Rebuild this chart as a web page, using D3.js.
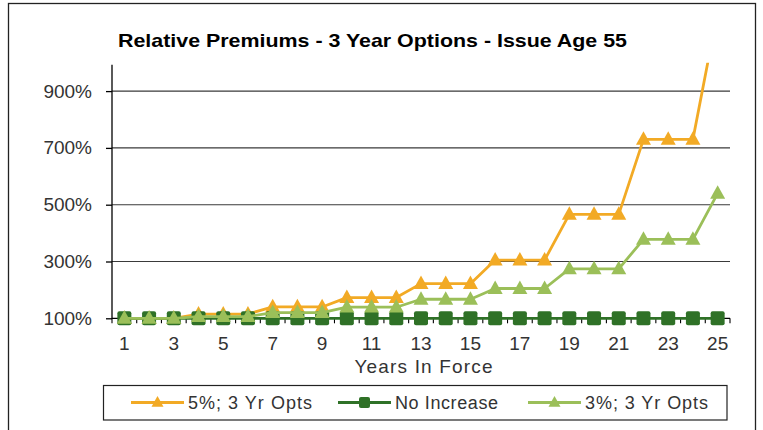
<!DOCTYPE html>
<html>
<head>
<meta charset="utf-8">
<script src="https://cdn.jsdelivr.net/npm/d3@7/dist/d3.min.js"></script>
<style>
  html, body { margin: 0; padding: 0; background: #fff; }
  svg text { font-family: "Liberation Sans", Arial, sans-serif; }
</style>
</head>
<body>
<svg id="chart" width="763" height="430"></svg>
<script>
// values
let years = d3.range(1, 26)
let pct5 = [100, 100, 100, 115, 115, 115, 140, 140, 140, 173, 173, 173, 222, 222, 222, 305, 305, 305, 466, 466, 466, 730, 730, 730, 1180]
let noIncrease = [100, 100, 100, 100, 100, 100, 100, 100, 100, 100, 100, 100, 100, 100, 100, 100, 100, 100, 100, 100, 100, 100, 100, 100, 100]
let pct3 = [100, 100, 100, 106, 106, 106, 120, 120, 120, 139, 139, 139, 167, 167, 167, 205, 205, 205, 274, 274, 274, 378, 378, 378, 540]
let yTicks = [100, 300, 500, 700, 900]
let xLabels = [1, 3, 5, 7, 9, 11, 13, 15, 17, 19, 21, 23, 25]

let seriesList = [
    { name: '5%; 3 Yr Opts', values: pct5, color: '#F2AA25', marker: 'tri', textLen: 124, lx: 131 },
    { name: 'No Increase', values: noIncrease, color: '#2F7127', marker: 'sq', textLen: 103, lx: 338 },
    { name: '3%; 3 Yr Opts', values: pct3, color: '#9BBF59', marker: 'tri', textLen: 123, lx: 528 }
]

let svg = d3.select('#chart')

let plotLeft = 112, plotRight = 730, plotTop = 62.7, plotBottom = 318.3

let xScale = d3.scaleBand()
    .domain(years)
    .range([plotLeft, plotRight])
    .padding(0)

let yScale = d3.scaleLinear()
    .domain([100, 1000])
    .range([plotBottom, plotTop])

// outer frame
svg.append('rect')
    .attr('x', 8.5).attr('y', 3.5)
    .attr('width', 747).attr('height', 440)
    .attr('fill', 'none')
    .attr('stroke', '#222')
    .attr('stroke-width', 1.3)

// title
svg.append('text')
    .attr('x', 118)
    .attr('y', 47)
    .attr('font-size', 19)
    .attr('font-weight', 'bold')
    .attr('fill', '#000')
    .attr('textLength', 509)
    .attr('lengthAdjust', 'spacingAndGlyphs')
    .text('Relative Premiums - 3 Year Options - Issue Age 55')

// gridlines
svg.append('g')
    .selectAll('line')
    .data(yTicks.filter(d => d != 100))
    .enter()
    .append('line')
    .attr('x1', plotLeft).attr('x2', plotRight)
    .attr('y1', d => yScale(d)).attr('y2', d => yScale(d))
    .attr('stroke', '#3a3a3a')
    .attr('stroke-width', 1.1)

// y axis
let yAxis = d3.axisLeft(yScale)
    .tickValues(yTicks)
    .tickSize(6)
    .tickPadding(14)
    .tickFormat(d => d + '%')

let yG = svg.append('g')
    .attr('transform', 'translate(' + plotLeft + ',0)')
    .call(yAxis)
yG.select('.domain').attr('d', 'M0,' + (plotBottom + 0.5) + 'V' + (plotTop + 2)).attr('stroke', '#000').attr('stroke-width', 1.3)
yG.selectAll('.tick line').attr('stroke', '#000').attr('stroke-width', 1.3)
yG.selectAll('.tick text')
    .attr('font-size', 19)
    .attr('fill', '#333')
    .attr('font-family', '"Liberation Sans", Arial, sans-serif')

// x axis: tick marks on category boundaries, labels on odd years
let xG = svg.append('g')
xG.append('line')
    .attr('x1', plotLeft).attr('x2', plotRight)
    .attr('y1', plotBottom).attr('y2', plotBottom)
    .attr('stroke', '#000')
    .attr('stroke-width', 1.3)

let bounds = years.map(d => xScale(d)).concat([plotRight])
xG.selectAll('line.tk')
    .data(bounds)
    .enter()
    .append('line')
    .attr('class', 'tk')
    .attr('x1', d => d).attr('x2', d => d)
    .attr('y1', plotBottom).attr('y2', plotBottom + 5)
    .attr('stroke', '#000')
    .attr('stroke-width', 1.1)

xG.selectAll('text')
    .data(xLabels)
    .enter()
    .append('text')
    .attr('x', d => xScale(d) + xScale.bandwidth() / 2)
    .attr('y', 350)
    .attr('text-anchor', 'middle')
    .attr('font-size', 19)
    .attr('fill', '#333')
    .text(d => d)

svg.append('text')
    .attr('x', 423.5)
    .attr('y', 373)
    .attr('text-anchor', 'middle')
    .attr('font-size', 19)
    .attr('fill', '#333')
    .attr('textLength', 138)
    .text('Years In Force')

// clip to the plot area
svg.append('clipPath')
    .attr('id', 'plotClip')
    .append('rect')
    .attr('x', plotLeft - 10).attr('y', plotTop)
    .attr('width', plotRight - plotLeft + 20).attr('height', plotBottom - plotTop + 20)

let cx = d => xScale(d) + xScale.bandwidth() / 2

let triPath = function(s) {
    let h = s * 0.9
    return 'M0,' + (-h * 0.6) + 'L' + (s / 2) + ',' + (h * 0.4) + 'L' + (-s / 2) + ',' + (h * 0.4) + 'Z'
}

let drawMarker = function(g, type, color, size) {
    if (type == 'tri') {
        g.append('path')
            .attr('d', triPath(size))
            .attr('fill', color)
    } else {
        g.append('rect')
            .attr('x', -size / 2).attr('y', -size / 2)
            .attr('width', size).attr('height', size)
            .attr('rx', 2)
            .attr('fill', color)
    }
}

let plot = svg.append('g').attr('clip-path', 'url(#plotClip)')

let line = d3.line()
    .x((d, i) => cx(years[i]))
    .y(d => yScale(d))

seriesList.forEach(s => {
    let g = plot.append('g')
    g.append('path')
        .datum(s.values)
        .attr('d', line)
        .attr('fill', 'none')
        .attr('stroke', s.color)
        .attr('stroke-width', 2.8)
        .attr('stroke-linejoin', 'round')

    g.selectAll('g.mk')
        .data(s.values)
        .enter()
        .append('g')
        .attr('class', 'mk')
        .attr('transform', (d, i) => 'translate(' + cx(years[i]) + ',' + yScale(d) + ')')
        .each(function() {
            drawMarker(d3.select(this), s.marker, s.color, s.marker == 'tri' ? 15 : 14)
        })
})

// legend
svg.append('rect')
    .attr('x', 103.5).attr('y', 385.5)
    .attr('width', 623.5).attr('height', 34.5)
    .attr('fill', '#fff')
    .attr('stroke', '#222')
    .attr('stroke-width', 1.2)

seriesList.forEach(s => {
    let g = svg.append('g')
    g.append('line')
        .attr('x1', s.lx).attr('x2', s.lx + 53)
        .attr('y1', 402.5).attr('y2', 402.5)
        .attr('stroke', s.color)
        .attr('stroke-width', 2.8)
    let m = g.append('g').attr('transform', 'translate(' + (s.lx + 26.5) + ',402.5)')
    drawMarker(m, s.marker, s.color, s.marker == 'tri' ? 12 : 11)
    g.append('text')
        .attr('x', s.lx + 57)
        .attr('y', 409)
        .attr('font-size', 18)
        .attr('fill', '#333')
        .attr('textLength', s.textLen)
        .text(s.name)
})
</script>
</body>
</html>
